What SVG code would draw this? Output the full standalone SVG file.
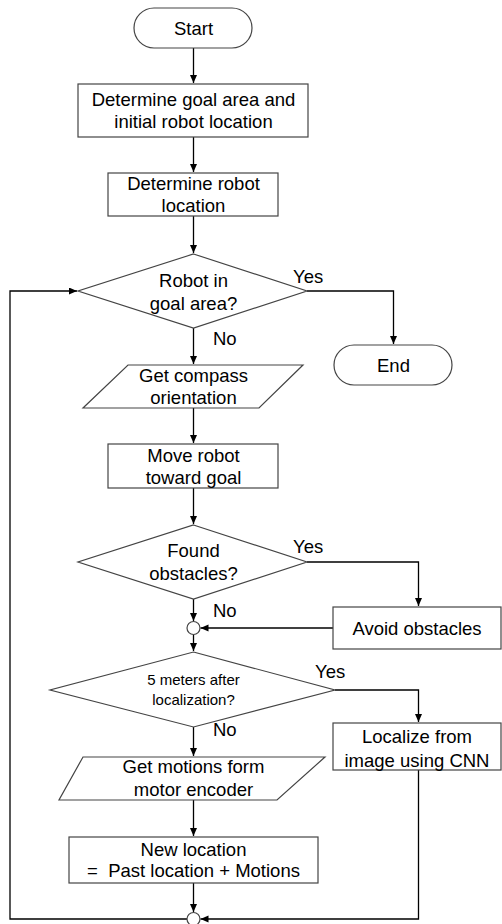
<svg xmlns="http://www.w3.org/2000/svg" width="502" height="924" viewBox="0 0 502 924">
<defs>
<style>
.s{fill:#fff;stroke:#444;stroke-width:1.2}
.c{fill:none;stroke:#000;stroke-width:1.3}
.t{font-family:"Liberation Sans",Arial,sans-serif;font-size:18.5px;fill:#000;text-anchor:middle}
.sm{font-size:15px}
.l{text-anchor:start}
</style>
<marker id="a" markerUnits="userSpaceOnUse" markerWidth="9" markerHeight="8" refX="8" refY="3.5" orient="auto">
<path d="M0,0 L8,3.5 L0,7 z" fill="#000"/>
</marker>
</defs>
<rect width="502" height="924" fill="#fff"/>
<g id="connectors">
<path class="c" d="M193.5,48 V83" marker-end="url(#a)"/>
<path class="c" d="M193.5,137 V172" marker-end="url(#a)"/>
<path class="c" d="M193.5,216 V253" marker-end="url(#a)"/>
<path class="c" d="M307,291 H393.5 V344" marker-end="url(#a)"/>
<path class="c" d="M193.5,328 V364" marker-end="url(#a)"/>
<path class="c" d="M193.5,408 V443" marker-end="url(#a)"/>
<path class="c" d="M193.5,488 V524" marker-end="url(#a)"/>
<path class="c" d="M307,562 H418.5 V606" marker-end="url(#a)"/>
<path class="c" d="M193.5,599 V621" marker-end="url(#a)"/>
<path class="c" d="M333,628 H200.5" marker-end="url(#a)"/>
<path class="c" d="M193.5,634.5 V651" marker-end="url(#a)"/>
<path class="c" d="M335,690 H418.5 V722" marker-end="url(#a)"/>
<path class="c" d="M193.5,727 V756" marker-end="url(#a)"/>
<path class="c" d="M193.5,800 V836" marker-end="url(#a)"/>
<path class="c" d="M193.5,883 V912" marker-end="url(#a)"/>
<path class="c" d="M418.5,770 V919 H200.5" marker-end="url(#a)"/>
<path class="c" d="M187,919 H10 V291 H77" marker-end="url(#a)"/>
<text class="t l" x="293" y="283">Yes</text>
<text class="t l" x="213" y="345">No</text>
<text class="t l" x="293" y="553">Yes</text>
<text class="t l" x="213" y="617">No</text>
<text class="t l" x="315" y="678">Yes</text>
<text class="t l" x="213" y="736">No</text>
</g>
<g id="start">
<rect class="s" x="134" y="8" width="118" height="40" rx="20"/>
<text class="t" x="193.5" y="35">Start</text>
</g>
<g id="init">
<rect class="s" x="78" y="84" width="230" height="53"/>
<text class="t" x="193.5" y="106">Determine goal area and</text>
<text class="t" x="193.5" y="128">initial robot location</text>
</g>
<g id="determine">
<rect class="s" x="108" y="173" width="170" height="43"/>
<text class="t" x="193.5" y="190">Determine robot</text>
<text class="t" x="193.5" y="212">location</text>
</g>
<g id="ingoal">
<polygon class="s" points="193.5,254 307,291 193.5,328 78,291"/>
<text class="t" x="193.5" y="287">Robot in</text>
<text class="t" x="193.5" y="310">goal area?</text>
</g>
<g id="end">
<rect class="s" x="334" y="345" width="118" height="40" rx="20"/>
<text class="t" x="393.5" y="371.5">End</text>
</g>
<g id="compass">
<polygon class="s" points="128,365 303,365 259,408 83,408"/>
<text class="t" x="193.5" y="382">Get compass</text>
<text class="t" x="193.5" y="404">orientation</text>
</g>
<g id="move">
<rect class="s" x="108" y="444" width="170" height="44"/>
<text class="t" x="193.5" y="462">Move robot</text>
<text class="t" x="193.5" y="484">toward goal</text>
</g>
<g id="obstacles">
<polygon class="s" points="193.5,525 307,562 193.5,599 78,562"/>
<text class="t" x="193.5" y="557">Found</text>
<text class="t" x="193.5" y="580">obstacles?</text>
</g>
<g id="avoid">
<rect class="s" x="333" y="607" width="168" height="42"/>
<text class="t" x="417" y="635">Avoid obstacles</text>
</g>
<g id="junction1">
<circle class="s" cx="193.5" cy="628" r="6.5"/>
</g>
<g id="meters">
<polygon class="s" points="193.5,652 335,690 193.5,727 50,690"/>
<text class="t sm" x="193.5" y="685">5 meters after</text>
<text class="t sm" x="193.5" y="705">localization?</text>
</g>
<g id="localize">
<rect class="s" x="333" y="723" width="168" height="47"/>
<text class="t" x="417" y="743">Localize from</text>
<text class="t" x="417" y="767">image using CNN</text>
</g>
<g id="motions">
<polygon class="s" points="83,757 325,757 277,800 59,800"/>
<text class="t" x="193.5" y="773">Get motions form</text>
<text class="t" x="193.5" y="796">motor encoder</text>
</g>
<g id="newloc">
<rect class="s" x="69" y="837" width="249" height="46"/>
<text class="t" x="193.5" y="856">New location</text>
<text class="t" x="193.5" y="877">=&#160; Past location + Motions</text>
</g>
<g id="junction2">
<circle class="s" cx="193.5" cy="919" r="6.5"/>
</g>
</svg>
